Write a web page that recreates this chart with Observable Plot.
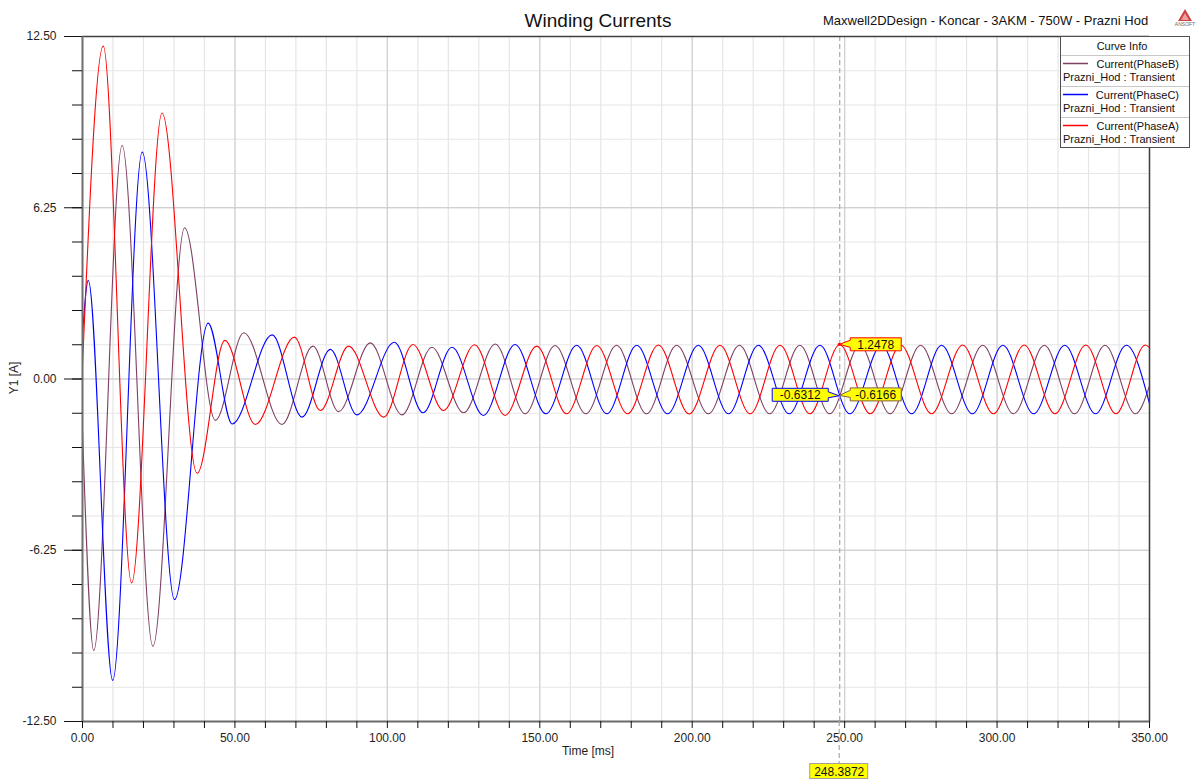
<!DOCTYPE html>
<html><head><meta charset="utf-8">
<script src="https://cdn.jsdelivr.net/npm/d3@7"></script>
<script src="https://cdn.jsdelivr.net/npm/@observablehq/plot@0.6"></script>
<style>
html,body{margin:0;padding:0;background:#fff;}
#chart{position:relative;width:1199px;height:782px;overflow:hidden;}
</style></head><body><div id="chart"></div>
<script>
// ---- data (local extrema of each winding current) ----
const phaseA_t = [0,6.8,16.1,26.1,37.6,46.7,56.7,69.5,78.0,87.3,98.8,108.4,118.4,128.6,138.6,149.0,158.8,168.7,178.8,188.9,199.0,209.1,219.0,228.8,238.6,248.3872,258.4,268.4,278.5,288.7,298.8,308.9,319.0,329.1,339.0,348.6,350];
const phaseA_i = [0.5,12.15,-7.44,9.71,-3.44,1.41,-1.66,1.53,-1.15,1.20,-1.39,1.26,-1.15,1.25,-1.33,1.20,-1.27,1.22,-1.27,1.24,-1.28,1.23,-1.27,1.23,-1.27,1.2478,-1.27,1.24,-1.27,1.24,-1.27,1.24,-1.27,1.24,-1.27,1.24,1.15];
const phaseB_t = [0,3.7,13.0,23.1,33.5,43.6,52.9,65.4,75.6,84.0,94.4,104.8,114.6,125.0,135.4,145.2,155.0,165.1,175.2,185.0,194.9,205.3,215.5,225.4,235.3,245.1,255.0,264.9,274.9,285.1,295.3,305.4,315.5,325.4,335.4,345.4,350];
const phaseB_i = [-1.9,-9.91,8.52,-9.75,5.52,-1.51,1.69,-1.66,1.20,-1.19,1.32,-1.31,1.16,-1.23,1.28,-1.27,1.22,-1.27,1.23,-1.27,1.23,-1.27,1.23,-1.27,1.23,-1.27,1.23,-1.27,1.23,-1.27,1.23,-1.27,1.23,-1.27,1.23,-1.27,-0.25];
const phaseC_t = [0,1.9,9.9,19.6,30.2,41.2,49.1,62.2,72.0,81.3,90.0,102.3,111.7,121.2,131.5,141.9,152.0,162.1,172.0,181.8,191.9,202.0,211.9,221.7,231.8,241.9,251.7,262.1,272.0,281.8,291.9,301.9,312.0,322.2,332.3,342.4,350];
const phaseC_i = [1.6,3.6,-11.0,8.28,-8.05,2.04,-1.64,1.61,-1.39,1.08,-1.31,1.34,-1.23,1.16,-1.33,1.26,-1.27,1.23,-1.27,1.23,-1.27,1.23,-1.27,1.23,-1.27,1.23,-1.27,1.23,-1.27,1.23,-1.27,1.23,-1.27,1.23,-1.27,1.23,-0.9];

const seriesNames = ["Current(PhaseB)", "Current(PhaseC)", "Current(PhaseA)"];
const seriesColors = ["#7f3f63", "#0000ff", "#ff0000"];
const seriesSub = "Prazni_Hod : Transient";

const xMajorTicks = [0,50,100,150,200,250,300,350];
const xMinorTicks = [0,10,20,30,40,50,60,70,80,90,100,110,120,130,140,150,160,170,180,190,200,210,220,230,240,250,260,270,280,290,300,310,320,330,340,350];
const yMajorTicks = [-12.5,-6.25,0,6.25,12.5];
const yMinorTicks = [-12.5,-11.25,-10,-8.75,-7.5,-6.25,-5,-3.75,-2.5,-1.25,0,1.25,2.5,3.75,5,6.25,7.5,8.75,10,11.25,12.5];

const markerT = 248.3872;
const markerVals = [1.2478, -0.6312, -0.6166];
const markerLabels = ["1.2478", "-0.6312", "-0.6166"];

const titleText = "Winding Currents";
const subtitleText = "Maxwell2DDesign - Koncar - 3AKM - 750W - Prazni Hod";
const xLabel = "Time [ms]";
const yLabel = "Y1 [A]";

// ---- build ----
const rows = (ts, is) => ts.map((t, k) => ({t, i: is[k]}));
const dataA = rows(phaseA_t, phaseA_i);
const dataB = rows(phaseB_t, phaseB_i);
const dataC = rows(phaseC_t, phaseC_i);

const FONT = "'Liberation Sans', Arial, sans-serif";

const chart = Plot.plot({
  width: 1199, height: 782,
  marginLeft: 82, marginRight: 50, marginTop: 36, marginBottom: 61,
  style: {fontFamily: FONT, fontSize: "12px", color: "#1e1e1e", background: "white"},
  x: {domain: [0, 350]},
  y: {domain: [-12.5, 12.5]},
  marks: [
    Plot.ruleX(xMinorTicks, {stroke: "#e6e6e6", strokeWidth: 1.2}),
    Plot.ruleY(yMinorTicks, {stroke: "#e6e6e6", strokeWidth: 1.2}),
    Plot.ruleX(xMajorTicks, {stroke: "#d2d2d2", strokeWidth: 1.2}),
    Plot.ruleY(yMajorTicks, {stroke: "#c8c8c8", strokeWidth: 1.2}),
    Plot.line(dataB, {x: "t", y: "i", stroke: seriesColors[0], strokeWidth: 1.1, curve: "monotone-x"}),
    Plot.line(dataC, {x: "t", y: "i", stroke: seriesColors[1], strokeWidth: 1.1, curve: "monotone-x"}),
    Plot.line(dataA, {x: "t", y: "i", stroke: seriesColors[2], strokeWidth: 1.1, curve: "monotone-x"}),
    Plot.ruleX([markerT], {stroke: "#a8a8a8", strokeWidth: 1.2, strokeDasharray: "5,3"}),
    Plot.ruleY([12.5], {stroke: "#404040", strokeWidth: 1.5}),
    Plot.ruleX([350], {stroke: "#404040", strokeWidth: 1.5}),
    Plot.ruleX([0], {stroke: "#707070", strokeWidth: 2}),
    Plot.ruleY([-12.5], {stroke: "#6a6a6a", strokeWidth: 2}),
    Plot.axisX({ticks: xMinorTicks, tickSize: 7, tickPadding: 5, stroke: "#111",
      tickFormat: d => (xMajorTicks.includes(d) ? d.toFixed(2) : ""), label: null, fontSize: 12}),
    Plot.axisY({ticks: yMinorTicks, tickSize: 10, tickFormat: () => "", label: null, stroke: "#111"}),
    Plot.axisY({ticks: yMajorTicks, tickSize: 18, tickPadding: 8, stroke: "#111",
      tickFormat: d => d.toFixed(2), label: null, fontSize: 12})
  ]
});
document.getElementById("chart").appendChild(chart);

const svg = d3.select(chart);
const xs = chart.scale("x"), ys = chart.scale("y");
const px = xs.apply(markerT);

// title & subtitle
svg.append("text").attr("x", 598).attr("y", 27).attr("text-anchor", "middle")
  .style("font", `19px ${FONT}`).attr("fill", "#111").text(titleText);
svg.append("text").attr("x", 823).attr("y", 25).attr("text-anchor", "start")
  .style("font", `13px ${FONT}`).attr("fill", "#111").text(subtitleText);
// Ansoft logo
const logo = svg.append("g").attr("transform", "translate(1185,9)");
logo.append("path").attr("d", "M0,0 L-7,12 L7,12 Z").attr("fill", "#d04040");
logo.append("path").attr("d", "M0,4 L-4,11 L4,11 Z").attr("fill", "#f0a0a0");
logo.append("text").attr("x", 0).attr("y", 17).attr("text-anchor", "middle")
  .style("font", `5px ${FONT}`).attr("fill", "#666").text("ANSOFT");

// axis labels
svg.append("text").attr("x", 588).attr("y", 755).attr("text-anchor", "middle")
  .style("font", `12px ${FONT}`).attr("fill", "#1e1e1e").text(xLabel);
svg.append("text").attr("transform", "translate(18,378) rotate(-90)").attr("text-anchor", "middle")
  .style("font", `12px ${FONT}`).attr("fill", "#1e1e1e").text(yLabel);

// legend
const lg = svg.append("g");
lg.append("rect").attr("x", 1060.5).attr("y", 36.5).attr("width", 129).attr("height", 111)
  .attr("fill", "white").attr("stroke", "#505050");
lg.append("text").attr("x", 1122).attr("y", 50).attr("text-anchor", "middle")
  .style("font", `11px ${FONT}`).attr("fill", "#111").text("Curve Info");
[55.5, 86.5, 117.5].forEach(y => lg.append("line").attr("x1", 1061).attr("x2", 1189)
  .attr("y1", y).attr("y2", y).attr("stroke", "#c8c8c8"));
seriesNames.forEach((name, k) => {
  const y = 63.5 + k * 31;
  lg.append("line").attr("x1", 1063).attr("x2", 1088).attr("y1", y).attr("y2", y)
    .attr("stroke", seriesColors[k]).attr("stroke-width", 1.5);
  lg.append("text").attr("x", 1179).attr("y", y + 4).attr("text-anchor", "end")
    .style("font", `11px ${FONT}`).attr("fill", "#111").text(name);
  lg.append("text").attr("x", 1063).attr("y", y + 17).attr("text-anchor", "start")
    .style("font", `11px ${FONT}`).attr("fill", "#111").text(seriesSub);
});

// marker labels
function flag(side, tipX, tipY, cy, w, label, border) {
  const h = 13, tab = 11;
  let d, l;
  if (side === "right") {
    l = tipX + tab; const r = l + w;
    d = `M${tipX},${tipY} L${l},${cy - 4} L${l},${cy - h/2} L${r},${cy - h/2} L${r},${cy + h/2} L${l},${cy + h/2} L${l},${cy + 3} Z`;
  } else {
    const r = tipX - tab; l = r - w;
    d = `M${tipX},${tipY} L${r},${cy + 3} L${r},${cy + h/2} L${l},${cy + h/2} L${l},${cy - h/2} L${r},${cy - h/2} L${r},${cy - 3} Z`;
  }
  svg.append("path").attr("d", d).attr("fill", "#ffff00").attr("stroke", border).attr("stroke-width", 1);
  svg.append("text").attr("x", l + w/2).attr("y", cy + 4.5).attr("text-anchor", "middle")
    .style("font", `12px ${FONT}`).attr("fill", "#111").text(label);
}
const yA = ys.apply(markerVals[0]), yC = ys.apply(markerVals[1]), yB = ys.apply(markerVals[2]);
flag("right", px, yA, yA, 51, markerLabels[0], "#ff0000");
flag("left", px, yC, yC - 1, 56, markerLabels[1], "#0000ff");
flag("right", px, yB, yB - 1, 51, markerLabels[2], "#806040");
svg.append("circle").attr("cx", px).attr("cy", yA).attr("r", 1.5).attr("fill", "#ff0000");

// dashed marker extension and time label
svg.append("line").attr("x1", px).attr("x2", px).attr("y1", ys.apply(-12.5)).attr("y2", 763)
  .attr("stroke", "#a8a8a8").attr("stroke-width", 1.2).attr("stroke-dasharray", "5,3");
svg.append("rect").attr("x", px - 29.5).attr("y", 763.5).attr("width", 58).attr("height", 15)
  .attr("fill", "#ffff00").attr("stroke", "#a0a0a0");
svg.append("text").attr("x", px).attr("y", 775.5).attr("text-anchor", "middle")
  .style("font", `12px ${FONT}`).attr("fill", "#111").text(markerT.toFixed(4));
</script></body></html>
